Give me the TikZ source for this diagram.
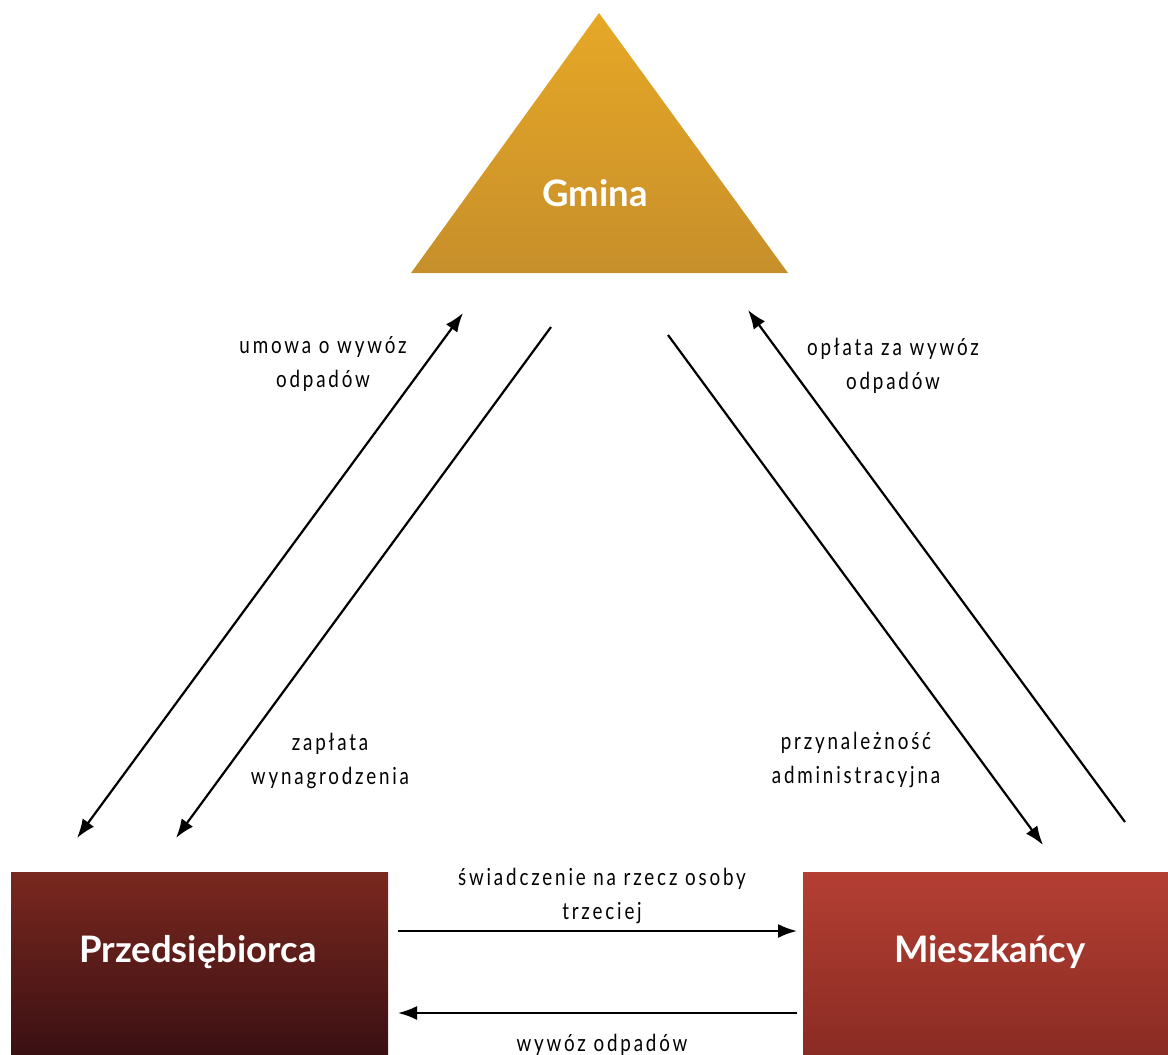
\documentclass[tikz,border=0pt]{standalone}
\usepackage{fontspec}
\setmainfont{Lato}
\newfontfamily\titlefont{Lato}
\newfontfamily\lblfont[FakeStretch=0.8,LetterSpace=12]{Lato}
\usetikzlibrary{arrows.meta}
\definecolor{goldtop}{HTML}{E6A826}
\definecolor{goldbot}{HTML}{C78F2B}
\definecolor{ptop}{HTML}{7A281F}
\definecolor{pbot}{HTML}{3A1013}
\definecolor{mtop}{HTML}{B43F33}
\definecolor{mbot}{HTML}{8A2B23}
\begin{document}
\begin{tikzpicture}[x=1pt,y=-1pt,
  title/.style={text=white,font=\titlefont\bfseries\fontsize{36.5}{40}\selectfont},
  lbl/.style={align=center,font=\lblfont\fontsize{23.5}{34}\selectfont,text=black},
  tip/.style={Latex[length=19pt,width=14pt]},
  conn/.style={line width=2.2pt,-{Latex[length=19pt,width=14pt]}},
  conn2/.style={line width=2.2pt,{Latex[length=19pt,width=14pt]}-{Latex[length=19pt,width=14pt]}}]
\useasboundingbox (0,0) rectangle (1168,1055);
% shapes
\shade[top color=goldtop,bottom color=goldbot] (599,13) -- (788,273) -- (411,273) -- cycle;
\shade[top color=ptop,bottom color=pbot] (11,872) rectangle (388,1055);
\shade[top color=mtop,bottom color=mbot] (803,872) rectangle (1168,1055);
% titles
\node[title] (gmina) at (595,193) {Gmina};
\node[title] (przed) at (198,952) {Przedsiębiorca};
\node[title] (miesz) at (990,952) {Mieszkańcy};
% endpoints
\coordinate (a1) at (463,313); \coordinate (a2) at (77,838);
\coordinate (b1) at (551,327); \coordinate (b2) at (176,838);
\coordinate (c1) at (668,335); \coordinate (c2) at (1043,845);
\coordinate (d1) at (1125,822); \coordinate (d2) at (748,310);
\coordinate (e1) at (398,931); \coordinate (e2) at (797,931);
\coordinate (f1) at (797,1013); \coordinate (f2) at (398,1013);
\draw[conn2] (a1) -- (a2);
\draw[conn] (b1) -- (b2);
\draw[conn] (c1) -- (c2);
\draw[conn] (d1) -- (d2);
\draw[conn] (e1) -- (e2);
\draw[conn] (f1) -- (f2);
% labels
\node[lbl] (l1) at (323,364) {umowa o wywóz\\odpadów};
\node[lbl] (l2) at (893,366) {opłata za wywóz\\odpadów};
\node[lbl] (l3) at (330,761) {zapłata\\wynagrodzenia};
\node[lbl] (l4) at (856,760) {przynależność\\administracyjna};
\node[lbl] (l5) at (602,896) {świadczenie na rzecz osoby\\trzeciej};
\node[lbl] (l6) at (602,1045) {wywóz odpadów};
\end{tikzpicture}
\end{document}
